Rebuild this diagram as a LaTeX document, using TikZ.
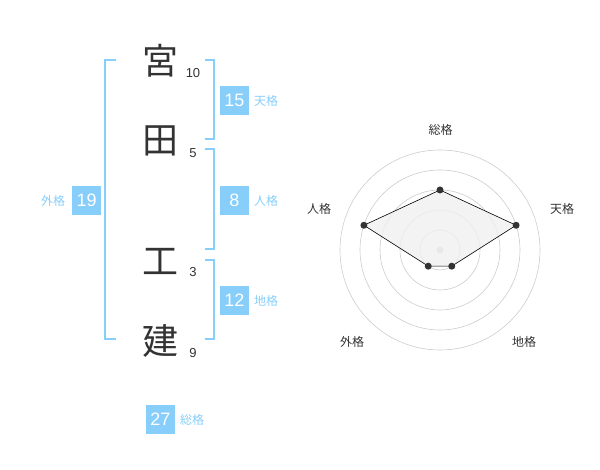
\documentclass[tikz,border=0pt]{standalone}
\usepackage{fontspec}
\setmainfont{Liberation Sans}
\newfontfamily\jpfont{Noto Sans CJK JP}
\usepackage{xcolor}
\usetikzlibrary{calc}

\definecolor{kakublue}{RGB}{135,206,250}
\definecolor{inkgray}{RGB}{51,51,51}

\tikzset{
  kanji/.style={text=inkgray,font=\jpfont\fontsize{36}{36}\selectfont,inner sep=0pt},
  strokes/.style={text=inkgray,font=\fontsize{13}{13}\selectfont,inner sep=0pt},
  kakubox/.style={fill=kakublue,text=white,minimum size=29pt,inner sep=0pt,font=\fontsize{18}{18}\selectfont},
  kakuname/.style={text=kakublue,font=\jpfont\fontsize{12}{12}\selectfont,inner sep=0pt},
  bracket/.style={draw=kakublue,line width=2pt},
  ring/.style={draw=gray!40,line width=0.6pt},
  axisname/.style={text=inkgray,font=\jpfont\fontsize{12}{12}\selectfont,inner sep=0pt},
  vdot/.style={circle,fill=inkgray,inner sep=0pt,minimum size=7pt}
}

\begin{document}
\begin{tikzpicture}[x=1pt,y=-1pt]
\useasboundingbox (0,0) rectangle (600,470);

% name and strokes
\node[kanji] (k1) at (160,61) {宮};
\node[kanji] (k2) at (160,141) {田};
\node[kanji] (k3) at (160,261) {工};
\node[kanji] (k4) at (160,341) {建};
\node[strokes] (s1) at (193,73) {10};
\node[strokes] (s2) at (193,153) {5};
\node[strokes] (s3) at (193,272) {3};
\node[strokes] (s4) at (193,353) {9};

% brackets
\draw[bracket] (115.5,60) -- (105,60) -- (105,339) -- (115.5,339);
\draw[bracket] (205,60) -- (214,60) -- (214,139) -- (205,139);
\draw[bracket] (205,149.5) -- (214,149.5) -- (214,249) -- (205,249);
\draw[bracket] (205,260) -- (214,260) -- (214,339) -- (205,339);

% kaku values
\node[kakubox] (ten) at (234.5,100.5) {15};
\node[kakuname] (tenL) at (266,101) {天格};
\node[kakubox] (jin) at (234.5,200.5) {8};
\node[kakuname] (jinL) at (266,201) {人格};
\node[kakubox] (chi) at (234.5,300.5) {12};
\node[kakuname] (chiL) at (266,301) {地格};
\node[kakubox] (gai) at (86.7,200.5) {19};
\node[kakuname] (gaiL) at (53,201) {外格};
\node[kakubox] (sou) at (160.5,419.5) {27};
\node[kakuname] (souL) at (192,420) {総格};

% radar
\coordinate (c) at (440,250);
\foreach \r in {20,40,60,80,100}
  \draw[ring] (c) circle (\r pt);
\fill[gray!40] (c) circle (3.5pt);

\coordinate (pSou) at ($(c)+(90:60pt)$);
\coordinate (pTen) at ($(c)+(18:80pt)$);
\coordinate (pChi) at ($(c)+(-54:20pt)$);
\coordinate (pGai) at ($(c)+(-126:20pt)$);
\coordinate (pJin) at ($(c)+(162:80pt)$);
\draw[black,line width=0.6pt,fill=gray!12,fill opacity=0.8] (pSou) -- (pTen) -- (pChi) -- (pGai) -- (pJin) -- cycle;
\foreach \p in {pSou,pTen,pChi,pGai,pJin}
  \node[vdot] at (\p) {};

\node[axisname] (aSou) at (440.5,130) {総格};
\node[axisname] (aTen) at (562,209) {天格};
\node[axisname] (aChi) at (524,342) {地格};
\node[axisname] (aGai) at (352,342) {外格};
\node[axisname] (aJin) at (319,209) {人格};
\end{tikzpicture}
\end{document}
